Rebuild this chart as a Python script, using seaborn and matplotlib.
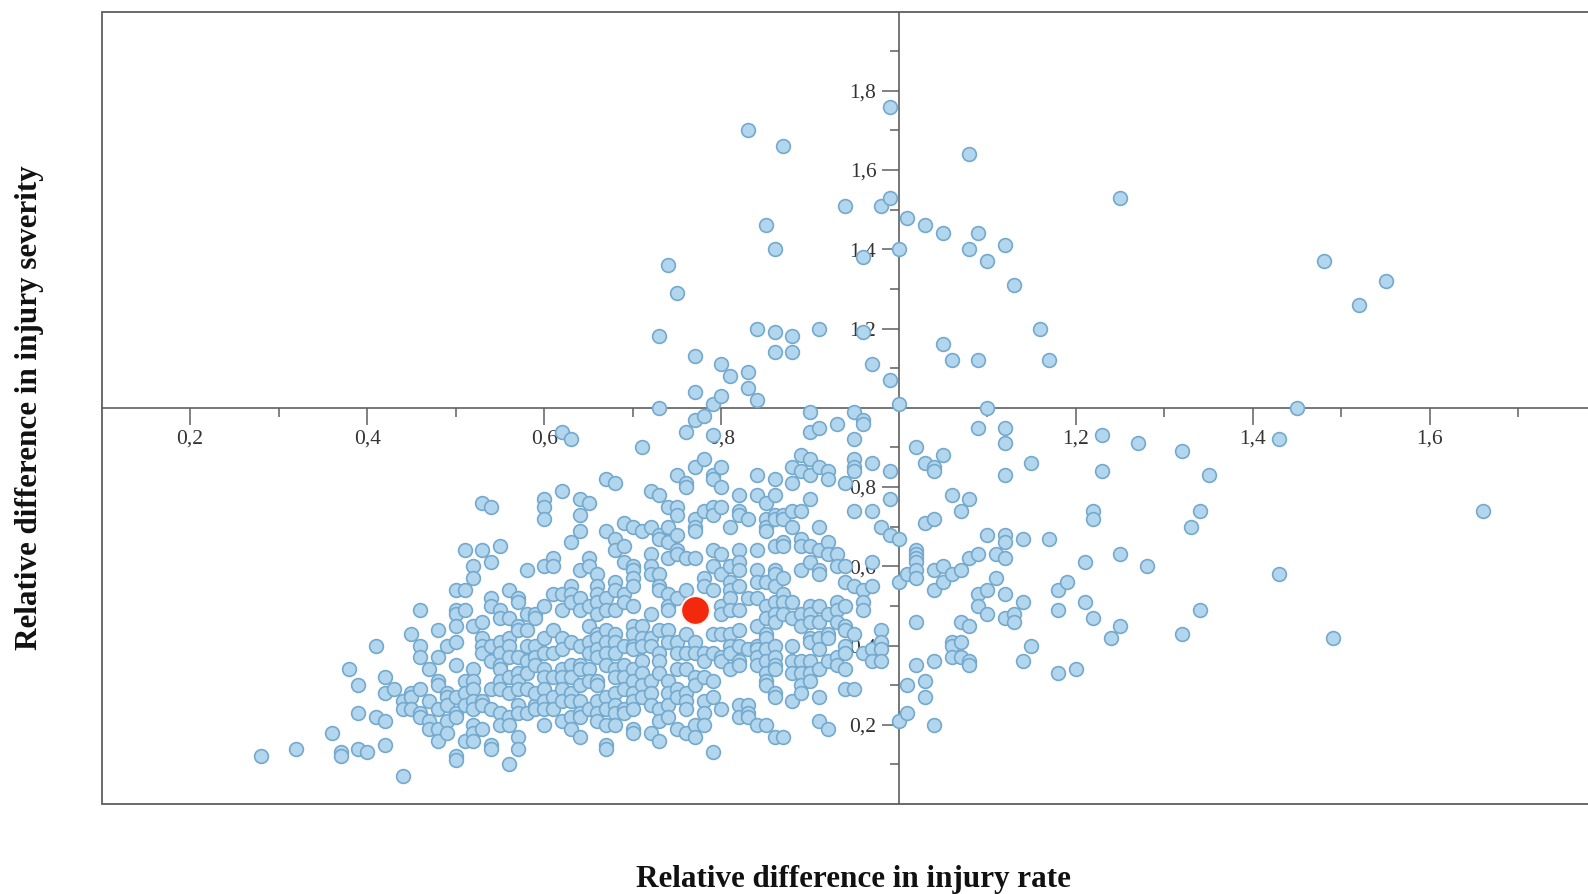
import matplotlib
matplotlib.use("Agg")
import matplotlib.pyplot as plt
import pandas as pd
import seaborn as sns

# injury rate level -> injury severity values read at that level
rate_levels = [
 .28,.32,.36,.37,.38,.39,.40,.41,.42,.43,.44,.45,.46,.47,.48,.49,.50,.51,.52,.53,.54,.55,.56,.57,.58,.59,
 .60,.61,.62,.63,.64,.65,.66,.67,.68,.69,.70,.71,.72,.73,.74,.75,.76,.77,.78,.79,
 .80,.81,.82,.83,.84,.85,.86,.87,.88,.89,.90,.91,.92,.93,.94,.95,.96,.97,.98,.99,
 1.00,1.01,1.02,1.03,1.04,1.05,1.06,1.07,1.08,1.09,1.10,1.11,1.12,1.13,1.14,1.15,1.16,1.17,1.18,1.19,
 1.20,1.21,1.22,1.23,1.24,1.25,1.27,1.28,1.32,1.33,1.34,1.35,1.43,1.45,1.48,1.49,1.52,1.55,1.66]
severity_by_level = [
 [.12],[.14],[.18],[.13,.12],[.34],[.14,.23,.30],[.13],[.40,.22],[.21,.15,.28,.32],[.29],
 [.07,.26,.24],[.43,.28,.27,.24],[.49,.40,.37,.29,.23,.22],[.34,.26,.21,.19],
 [.44,.37,.31,.30,.24,.19,.16],[.40,.28,.27,.25,.21,.18],
 [.54,.49,.48,.45,.41,.35,.27,.23,.22,.12,.11],[.54,.49,.64,.31,.28,.25,.16],
 [.60,.57,.45,.34,.31,.29,.26,.24,.20,.18,.16],[.76,.64,.46,.42,.40,.38,.26,.25,.19],
 [.75,.61,.52,.50,.40,.36,.29,.24,.15,.14],[.65,.49,.47,.41,.38,.35,.34,.31,.29,.23,.20],
 [.54,.47,.42,.40,.37,.32,.28,.22,.20,.10],[.52,.51,.45,.44,.37,.33,.31,.29,.25,.23,.17,.14],
 [.59,.48,.44,.40,.36,.33,.29,.23],[.48,.47,.40,.37,.35,.25,.24,.28],
 [.77,.75,.72,.60,.50,.42,.38,.34,.32,.29,.26,.24,.20],[.62,.60,.53,.44,.38,.32,.27,.24],
 [.94,.79,.53,.49,.42,.39,.34,.32,.29,.26,.21],[.92,.66,.55,.53,.51,.41,.35,.32,.28,.26,.22,.19],
 [.77,.73,.69,.59,.52,.49,.40,.35,.34,.30,.26,.23,.22,.17],[.76,.62,.60,.50,.45,.41,.38,.34,.31,.24],
 [.58,.55,.53,.51,.48,.43,.42,.39,.37,.31,.30,.26,.23,.21],[.82,.69,.52,.49,.44,.41,.38,.35,.27,.24,.20,.15,.14],
 [.81,.67,.64,.56,.54,.49,.43,.41,.38,.34,.32,.28,.25,.23,.20],[.71,.65,.61,.53,.51,.40,.35,.32,.29,.24,.23],
 [.70,.60,.59,.57,.55,.50,.45,.43,.40,.39,.34,.31,.28,.26,.24,.19,.18],[.90,.69,.45,.42,.40,.36,.33,.30,.27],
 [.79,.70,.63,.60,.58,.48,.42,.40,.31,.28,.25,.18],[1.18,1.00,.78,.68,.67,.58,.55,.54,.44,.38,.36,.33,.24,.21,.16],
 [1.36,.75,.70,.66,.62,.53,.50,.49,.44,.41,.31,.28,.25,.22],[1.29,.83,.75,.73,.68,.64,.63,.52,.41,.38,.34,.29,.27,.19],
 [.94,.81,.80,.62,.54,.43,.38,.34,.28,.26,.24,.18],[1.13,1.04,.97,.85,.72,.70,.69,.62,.41,.38,.32,.30,.20,.17],
 [.98,.87,.74,.57,.55,.38,.36,.32,.26,.23,.20],[1.01,.93,.83,.82,.75,.73,.64,.60,.54,.43,.38,.31,.27,.13],
 [1.11,1.03,.85,.80,.75,.63,.58,.50,.48,.43,.37,.36,.24],[1.08,.70,.60,.56,.54,.52,.49,.43,.40,.38,.34],
 [.78,.74,.73,.64,.61,.59,.55,.49,.44,.40,.36,.35,.25,.22],[1.70,1.09,1.05,.72,.52,.39,.25,.23,.22],
 [1.20,1.02,.83,.78,.64,.59,.56,.52,.45,.40,.39,.37,.35,.20],[1.46,.76,.72,.70,.69,.56,.50,.47,.43,.42,.39,.36,.33,.31,.30,.20],
 [1.40,1.19,1.14,.82,.78,.73,.72,.65,.59,.58,.55,.51,.48,.46,.40,.37,.35,.34,.28,.27,.17],
 [1.66,.73,.72,.66,.65,.57,.53,.51,.48,.17],[1.18,1.14,.85,.81,.74,.70,.51,.47,.40,.36,.33,.26],
 [.88,.84,.74,.67,.65,.59,.48,.45,.36,.33,.30,.28],[.99,.94,.87,.83,.77,.65,.61,.50,.48,.46,.42,.41,.36,.33,.31],
 [1.20,.95,.85,.70,.64,.59,.58,.50,.46,.42,.39,.34,.27,.21],[.84,.82,.66,.63,.48,.43,.42,.36,.19],
 [.96,.63,.60,.51,.49,.46,.37,.35],[1.51,.81,.60,.56,.50,.45,.44,.40,.38,.34,.29],
 [.99,.92,.87,.85,.84,.74,.55,.43,.29],[1.38,1.19,.97,.96,.54,.51,.49,.38],[1.11,.86,.74,.61,.55,.39,.36],
 [1.51,.70,.44,.41,.39,.36],[1.76,1.53,1.07,.84,.77,.68],
 [1.40,1.01,.67,.56,.21],[1.48,.58,.30,.23],[.90,.64,.63,.62,.61,.59,.57,.46,.35],
 [1.46,.86,.71,.31,.27],[.85,.84,.72,.59,.54,.36,.20],[1.44,1.16,.88,.60,.56],[1.12,.78,.58,.41,.40,.37],
 [.74,.59,.46,.41,.37],[1.64,1.40,.77,.62,.45,.36,.35],[1.44,1.12,.95,.63,.53,.50],
 [1.37,1.00,.68,.54,.48],[.63,.57],[1.41,.95,.91,.83,.68,.66,.62,.53,.47],[1.31,.48,.46],[.67,.51,.36],
 [.86,.40],[1.20],[1.12,.67],[.54,.49,.33],[.56],
 [.34],[.61,.51],[.74,.72,.47],[.93,.84],[.42],[1.53,.63,.45],[.91],[.60],[.89,.43],[.70],[.74,.49],[.83],
 [.92,.58],[1.00],[1.37],[.42],[1.26],[1.32],[.74]]

highlight_rate = [.77]
highlight_severity = [.49]

x_major = [.2,.4,.6,.8,1.2,1.4,1.6]
x_major_labels = ["0,2","0,4","0,6","0,8","1,2","1,4","1,6"]
y_major = [.2,.4,.6,.8,1.2,1.4,1.6,1.8]
y_major_labels = ["0,2","0,4","0,6","0,8","1,2","1,4","1,6","1,8"]
x_minor = [.3,.5,.7,.9,1.1,1.3,1.5,1.7]
y_minor = [.1,.3,.5,.7,.9,1.1,1.3,1.5,1.7,1.9]

df = pd.DataFrame({
    "rate": [r for r, ys in zip(rate_levels, severity_by_level) for _ in ys],
    "severity": [y for ys in severity_by_level for y in ys],
})

sns.set_theme(style="white")
plt.rcParams["font.family"] = ["Liberation Serif", "DejaVu Serif"]

fig = plt.figure(figsize=(15.88, 8.94), dpi=100)
W, H = 1588, 894
ax = fig.add_axes([101.5/W, 1-804/H, 1-101.5/W, (804-11.5)/H])

sns.scatterplot(data=df, x="rate", y="severity", ax=ax, s=98, color="#b2d6ee",
                edgecolor="#74a9cd", linewidth=1.2, zorder=3, legend=False)
sns.scatterplot(x=highlight_rate, y=highlight_severity, ax=ax, s=430, color="#f2290d",
                edgecolor="#fff4ee", linewidth=1.5, zorder=4, legend=False)

ax.set_xlim(.1, 1.7785)
ax.set_ylim(0, 2)
frame = "#5f5f5f"
for name in ("top", "right"):
    ax.spines[name].set_visible(False)
for name in ("left", "bottom"):
    ax.spines[name].set_position(("data", 1))
    ax.spines[name].set_color(frame)
    ax.spines[name].set_linewidth(1.2)
    ax.spines[name].set_zorder(2)

# outer frame, open at the right edge
ax.plot([1, 0, 0, 1], [1, 1, 0, 0], transform=ax.transAxes, color=frame, lw=1.3,
        clip_on=False, zorder=2, solid_joinstyle="miter")

ax.set_xticks(x_major, x_major_labels)
ax.set_yticks(y_major, y_major_labels)
ax.set_xticks(x_minor, minor=True)
ax.set_yticks(y_minor, minor=True)
ax.tick_params(axis="both", which="major", length=12, width=1.1, color=frame, bottom=True, left=True,
               labelsize=15.5, labelcolor="#333333", pad=4, direction="out")
ax.tick_params(axis="both", which="minor", length=6.5, width=1.1, color=frame, bottom=True, left=True,
               direction="out")
ax.set_xlabel("")
ax.set_ylabel("")

fig.text(853/W, 1-880/H, "Relative difference in injury rate", ha="center", va="center",
         fontsize=22.4, fontweight="bold", color="#111111")
fig.text(30/W, 1-408/H, "Relative difference in injury severity", ha="center", va="center",
         rotation=90, fontsize=22.4, fontweight="bold", color="#111111")

fig.savefig("out.png", dpi=100, facecolor="white")
